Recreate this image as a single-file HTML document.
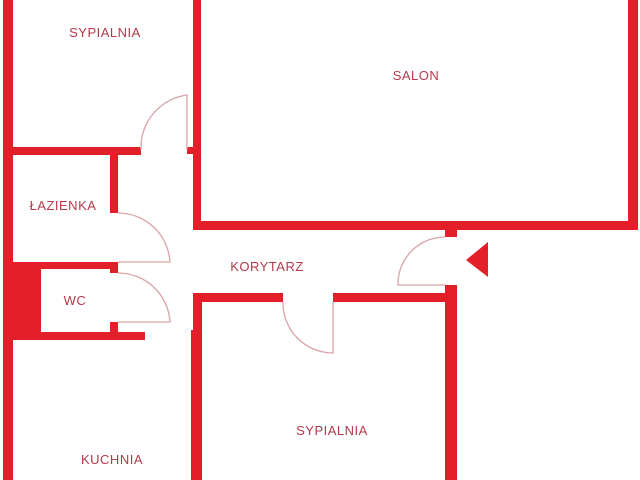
<!DOCTYPE html>
<html><head><meta charset="utf-8"><style>
html,body{margin:0;padding:0;background:#fff;width:640px;height:480px;overflow:hidden}
svg{display:block}
text{font-family:"Liberation Sans",sans-serif;font-size:13px;fill:#b5394a;text-anchor:middle;letter-spacing:0.5px}
</style></head><body>
<svg width="640" height="480" viewBox="0 0 640 480">
<g fill="#e3202a">
<!-- left outer wall -->
<rect x="3" y="0" width="10" height="480"/>
<!-- top bedroom bottom wall -->
<rect x="3" y="147" width="138" height="8"/>
<rect x="187" y="147" width="10" height="7"/>
<!-- salon -->
<rect x="193" y="0" width="8" height="228"/>
<rect x="193" y="221" width="445" height="9"/>
<rect x="628" y="0" width="10" height="230"/>
<!-- entrance stub -->
<rect x="445" y="228" width="12" height="9"/>
<!-- lazienka -->
<rect x="110" y="153" width="8" height="60"/>
<rect x="13" y="262" width="105" height="7"/>
<rect x="110" y="262" width="8" height="11"/>
<!-- wc -->
<rect x="13" y="269" width="28" height="70"/>
<rect x="110" y="322" width="8" height="12"/>
<rect x="13" y="332" width="132" height="8"/>
<!-- kitchen right / bedroom left -->
<rect x="191" y="330" width="3" height="150"/>
<rect x="193" y="293" width="9" height="187"/>
<!-- bottom bedroom top wall -->
<rect x="193" y="293" width="90" height="9"/>
<rect x="333" y="293" width="124" height="9"/>
<!-- right wall of bottom bedroom -->
<rect x="445" y="285" width="12" height="195"/>
<!-- entrance triangle -->
<polygon points="466,260 488,242 488,277"/>
</g>
<g fill="none" stroke="#d9a3a8" stroke-width="1.3">
<!-- top door -->
<path d="M187 150 V95 A53 53 0 0 0 141 150"/>
<!-- lazienka door -->
<path d="M118 213 A52 52 0 0 1 170 262 H118"/>
<!-- wc door -->
<path d="M118 273 A52 52 0 0 1 170 322 H118"/>
<!-- bedroom door -->
<path d="M283 302 A50 50 0 0 0 333 353 V302"/>
<!-- entrance door -->
<path d="M445 237 A47 47 0 0 0 398 285 H445"/>
</g>
<text x="105" y="37">SYPIALNIA</text>
<text x="416" y="80">SALON</text>
<text x="63" y="210">ŁAZIENKA</text>
<text x="75" y="305">WC</text>
<text x="267" y="271">KORYTARZ</text>
<text x="332" y="435">SYPIALNIA</text>
<text x="112" y="464">KUCHNIA</text>
</svg>
</body></html>
